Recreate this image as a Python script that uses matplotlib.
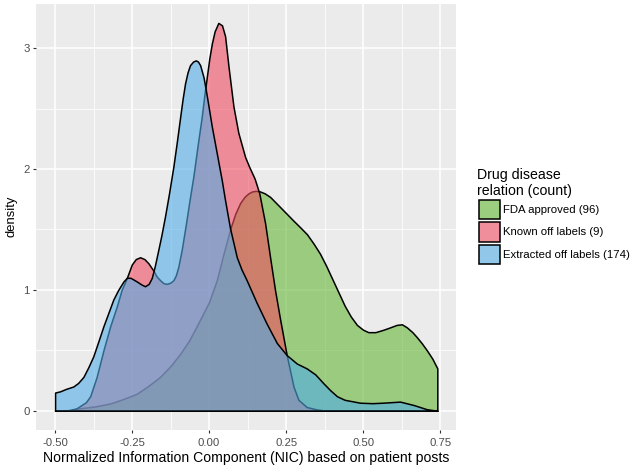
import numpy as np
import matplotlib
matplotlib.use("Agg")
import matplotlib.pyplot as plt
from matplotlib.patches import Rectangle

plt.rcParams['font.family'] = ['Liberation Sans', 'DejaVu Sans']

# density curves (x = NIC, y = density)
fda_x = [-0.5, -0.45, -0.419, -0.37, -0.321, -0.28, -0.235, -0.2, -0.159, -0.125,
         -0.094, -0.065, -0.04, -0.02, 0.0, 0.025, 0.047, 0.068, 0.085, 0.101,
         0.115, 0.128, 0.14, 0.152, 0.165, 0.18, 0.198, 0.225, 0.252, 0.275,
         0.295, 0.318, 0.34, 0.36, 0.38, 0.40, 0.42, 0.44, 0.46, 0.48,
         0.50, 0.517, 0.54, 0.566, 0.588, 0.609, 0.626, 0.642, 0.66, 0.674,
         0.69, 0.707, 0.725, 0.741]
fda_y = [0.0, 0.005, 0.02, 0.035, 0.06, 0.095, 0.14, 0.2, 0.28, 0.37,
         0.47, 0.58, 0.70, 0.80, 0.90, 1.08, 1.30, 1.50, 1.63, 1.72,
         1.77, 1.80, 1.815, 1.82, 1.815, 1.80, 1.77, 1.70, 1.63, 1.57,
         1.52, 1.46, 1.38, 1.30, 1.20, 1.09, 0.98, 0.87, 0.78, 0.71,
         0.67, 0.65, 0.65, 0.67, 0.69, 0.71, 0.715, 0.69, 0.65, 0.61,
         0.56, 0.50, 0.43, 0.35]

known_x = [-0.5, -0.46, -0.43, -0.40, -0.386, -0.365, -0.343, -0.321, -0.30, -0.284,
           -0.267, -0.251, -0.238, -0.224, -0.21, -0.197, -0.181, -0.17, -0.159, -0.148,
           -0.137, -0.126, -0.116, -0.108, -0.10, -0.089, -0.075, -0.063, -0.051, -0.037,
           -0.024, -0.015, -0.007, 0.001, 0.009, 0.018, 0.03, 0.042, 0.052, 0.063,
           0.079, 0.095, 0.117, 0.13, 0.148, 0.163, 0.182, 0.198, 0.214, 0.231,
           0.252, 0.263, 0.274, 0.290, 0.317, 0.35, 0.38, 0.741]
known_y = [0.0, 0.0, 0.02, 0.07, 0.12, 0.28, 0.50, 0.70, 0.86, 1.0,
           1.10, 1.21, 1.255, 1.27, 1.255, 1.22, 1.16, 1.11, 1.08, 1.055,
           1.05, 1.06, 1.08, 1.12, 1.19, 1.33, 1.55, 1.75, 1.94, 2.20,
           2.43, 2.62, 2.77, 2.92, 3.04, 3.14, 3.21, 3.19, 3.10, 2.85,
           2.52, 2.30, 2.10, 2.02, 1.92, 1.80, 1.55, 1.27, 1.00, 0.75,
           0.46, 0.33, 0.20, 0.09, 0.03, 0.01, 0.0, 0.0]

extr_x = [-0.5, -0.484, -0.465, -0.441, -0.425, -0.408, -0.392, -0.376, -0.36, -0.343,
          -0.327, -0.311, -0.295, -0.278, -0.267, -0.255, -0.235, -0.22, -0.208, -0.196,
          -0.186, -0.176, -0.165, -0.155, -0.143, -0.13, -0.116, -0.105, -0.094, -0.086,
          -0.078, -0.07, -0.062, -0.052, -0.043, -0.036, -0.029, -0.018, -0.007, 0.009,
          0.025, 0.041, 0.052, 0.068, 0.09, 0.105, 0.122, 0.155, 0.187, 0.22,
          0.252, 0.285, 0.317, 0.345, 0.37, 0.393, 0.415, 0.44, 0.49, 0.53,
          0.565, 0.62, 0.664, 0.707, 0.741]
extr_y = [0.15, 0.16, 0.18, 0.20, 0.23, 0.28, 0.36, 0.45, 0.57, 0.70,
          0.81, 0.92, 1.00, 1.07, 1.10, 1.10, 1.07, 1.045, 1.03, 1.05,
          1.10, 1.20, 1.33, 1.45, 1.61, 1.80, 2.02, 2.22, 2.43, 2.58,
          2.71, 2.80, 2.86, 2.89, 2.90, 2.89, 2.86, 2.76, 2.60, 2.35,
          2.13, 1.91, 1.74, 1.51, 1.27, 1.17, 1.08, 0.89, 0.72, 0.56,
          0.46, 0.39, 0.35, 0.30, 0.23, 0.17, 0.12, 0.09, 0.066, 0.062,
          0.066, 0.075, 0.047, 0.012, 0.0]

labels = ['FDA approved (96)', 'Known off labels (9)', 'Extracted off labels (174)']
colors = ['#64B735', '#F04D61', '#50ACE6']
series = [(fda_x, fda_y), (known_x, known_y), (extr_x, extr_y)]

W, H = 633, 470
fig = plt.figure(figsize=(W / 100, H / 100), dpi=100)
ax = fig.add_axes([36 / W, 1 - 430 / H, (456.3 - 35.9) / W, (430 - 3.6) / H])
ax.set_facecolor('#EBEBEB')

for (x, y), c in zip(series, colors):
    ax.fill_between(x, 0, y, facecolor=matplotlib.colors.to_rgba(c, 0.6),
                    edgecolor='black', linewidth=1.1)

ax.set_xlim(-0.562, 0.803)
ax.set_ylim(-0.16, 3.37)
ax.set_xticks([-0.5, -0.25, 0.0, 0.25, 0.5, 0.75])
ax.set_xticklabels(['-0.50', '-0.25', '0.00', '0.25', '0.50', '0.75'])
ax.set_yticks([0, 1, 2, 3])
ax.set_xticks([-0.375, -0.125, 0.125, 0.375, 0.625], minor=True)
ax.set_yticks([0.5, 1.5, 2.5], minor=True)
ax.grid(which='major', color='white', linewidth=1.1)
ax.grid(which='minor', color='white', linewidth=0.55)
ax.set_axisbelow(True)
for s in ax.spines.values():
    s.set_visible(False)
ax.tick_params(which='major', length=2.5, width=0.8, color='#333333',
               labelcolor='#4D4D4D', labelsize=8.2, pad=2.0)
ax.tick_params(axis='x', which='major', pad=3.4)
ax.tick_params(which='minor', length=0)

ax.set_xlabel('Normalized Information Component (NIC) based on patient posts',
              fontsize=10.1, labelpad=2.0)
ax.set_ylabel('density', fontsize=9.4, labelpad=4)

# legend
fig.text(477 / W, 1 - 175 / H, 'Drug disease', fontsize=10.2, va='center', ha='left')
fig.text(477 / W, 1 - 190.5 / H, 'relation (count)', fontsize=10.2, va='center', ha='left')
tops = [199.5, 221.8, 244]
for t, c, lab in zip(tops, colors, labels):
    fig.patches.append(Rectangle((478.3 / W, 1 - (t + 20.5) / H), 22.4 / W, 20.5 / H,
                                 transform=fig.transFigure, facecolor='#F2F2F2',
                                 edgecolor='none'))
    fig.patches.append(Rectangle((479 / W, 1 - (t + 19.8) / H), 21 / W, 19.2 / H,
                                 transform=fig.transFigure,
                                 facecolor=matplotlib.colors.to_rgba(c, 0.6),
                                 edgecolor='black', linewidth=1.1))
    fig.text(503 / W, 1 - (t + 10.5) / H, lab, fontsize=8.2, va='center', ha='left')

fig.savefig('out.png', dpi=100)
